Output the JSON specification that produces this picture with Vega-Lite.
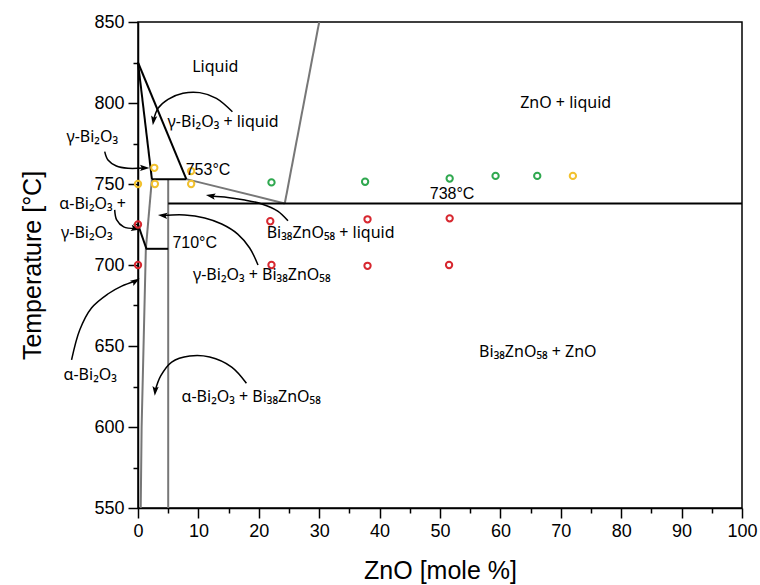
{
  "$schema": "https://vega.github.io/schema/vega-lite/v6.json",
  "width": 604,
  "height": 486,
  "autosize": {"type": "none"},
  "padding": {"left": 138, "top": 22, "right": 18, "bottom": 77},
  "background": "white",
  "config": {
    "view": {"stroke": "black", "strokeWidth": 1.5},
    "axis": {
      "domainColor": "black", "domainWidth": 1.5,
      "tickColor": "black", "tickWidth": 1.5,
      "labelColor": "black", "titleColor": "black",
      "grid": false,
      "labelFont": "Liberation Sans", "labelFontSize": 18,
      "titleFont": "Liberation Sans", "titleFontSize": 25, "titleFontWeight": "normal",
      "labelPadding": 4, "labelOverlap": false, "labelFlush": false
    }
  },
  "datasets": {
    "blackLines": [
      {"id": "B1", "o": 0, "x": 0, "T": 825}, {"id": "B1", "o": 1, "x": 2.3, "T": 753},
      {"id": "B2", "o": 0, "x": 0, "T": 825}, {"id": "B2", "o": 1, "x": 8, "T": 753},
      {"id": "B3", "o": 0, "x": 2.3, "T": 753}, {"id": "B3", "o": 1, "x": 8, "T": 753},
      {"id": "B4", "o": 0, "x": 5, "T": 738}, {"id": "B4", "o": 1, "x": 100, "T": 738},
      {"id": "B5", "o": 0, "x": 1.3, "T": 710}, {"id": "B5", "o": 1, "x": 5, "T": 710},
      {"id": "B6", "o": 0, "x": 0, "T": 725}, {"id": "B6", "o": 1, "x": 1.4, "T": 710}
    ],
    "greyLines": [
      {"id": "G1", "o": 0, "x": 8, "T": 753}, {"id": "G1", "o": 1, "x": 24.3, "T": 738},
      {"id": "G2", "o": 0, "x": 24.3, "T": 738}, {"id": "G2", "o": 1, "x": 30, "T": 850},
      {"id": "G3", "o": 0, "x": 5, "T": 753}, {"id": "G3", "o": 1, "x": 5, "T": 550},
      {"id": "G4", "o": 0, "x": 2.3, "T": 753}, {"id": "G4", "o": 1, "x": 1.3, "T": 710},
      {"id": "G5", "o": 0, "x": 1.3, "T": 710}, {"id": "G5", "o": 1, "x": 0.6, "T": 600}, {"id": "G5", "o": 2, "x": 0.45, "T": 550}
    ],
    "arrows": [
      {"id": "A1", "o": 0, "x": 15.63, "T": 794.6}, {"id": "A1", "o": 1, "x": 12.98, "T": 802.9}, {"id": "A1", "o": 2, "x": 10.22, "T": 806.4}, {"id": "A1", "o": 3, "x": 7.45, "T": 806.0}, {"id": "A1", "o": 4, "x": 4.97, "T": 802.3}, {"id": "A1", "o": 5, "x": 3.31, "T": 796.7}, {"id": "A1", "o": 6, "x": 2.58, "T": 789.5},
      {"id": "A2", "o": 0, "x": -5.51, "T": 770.0}, {"id": "A2", "o": 1, "x": -4.97, "T": 764.8}, {"id": "A2", "o": 2, "x": -3.58, "T": 761.1}, {"id": "A2", "o": 3, "x": -1.66, "T": 759.7}, {"id": "A2", "o": 4, "x": 1.03, "T": 759.9},
      {"id": "A3", "o": 0, "x": -3.86, "T": 734.0}, {"id": "A3", "o": 1, "x": -3.53, "T": 727.8}, {"id": "A3", "o": 2, "x": -2.37, "T": 723.5}, {"id": "A3", "o": 3, "x": -0.45, "T": 722.5},
      {"id": "A4", "o": 0, "x": -11.0, "T": 641.4}, {"id": "A4", "o": 1, "x": -9.65, "T": 659.9}, {"id": "A4", "o": 2, "x": -7.7, "T": 673.5}, {"id": "A4", "o": 3, "x": -5.0, "T": 682.1}, {"id": "A4", "o": 4, "x": -2.7, "T": 687.0}, {"id": "A4", "o": 5, "x": -0.46, "T": 690.0},
      {"id": "A5", "o": 0, "x": 17.95, "T": 627.0}, {"id": "A5", "o": 1, "x": 15.51, "T": 637.0}, {"id": "A5", "o": 2, "x": 11.87, "T": 643.2}, {"id": "A5", "o": 3, "x": 8.56, "T": 643.8}, {"id": "A5", "o": 4, "x": 5.58, "T": 640.1}, {"id": "A5", "o": 5, "x": 3.76, "T": 631.5}, {"id": "A5", "o": 6, "x": 2.85, "T": 622.5},
      {"id": "A6", "o": 0, "x": 19.87, "T": 700.0}, {"id": "A6", "o": 1, "x": 18.49, "T": 710.5}, {"id": "A6", "o": 2, "x": 16.51, "T": 719.1}, {"id": "A6", "o": 3, "x": 13.86, "T": 725.3}, {"id": "A6", "o": 4, "x": 11.04, "T": 729.0}, {"id": "A6", "o": 5, "x": 7.73, "T": 730.9}, {"id": "A6", "o": 6, "x": 4.17, "T": 730.6},
      {"id": "A7", "o": 0, "x": 24.83, "T": 727.3}, {"id": "A7", "o": 1, "x": 23.13, "T": 733.3}, {"id": "A7", "o": 2, "x": 20.48, "T": 737.7}, {"id": "A7", "o": 3, "x": 17.67, "T": 740.1}, {"id": "A7", "o": 4, "x": 14.85, "T": 741.7}, {"id": "A7", "o": 5, "x": 12.1, "T": 742.6}
    ],
    "heads": [
      {"x": 2.58, "T": 789.5, "a": 188},
      {"x": 1.03, "T": 759.9, "a": 90},
      {"x": -0.45, "T": 722.5, "a": 100},
      {"x": -0.46, "T": 690.0, "a": 58},
      {"x": 2.85, "T": 622.5, "a": 185},
      {"x": 4.17, "T": 730.6, "a": 275},
      {"x": 12.1, "T": 742.6, "a": 280}
    ],
    "points": [
      {"x": 0, "T": 750, "c": "yellow"},
      {"x": 2.7, "T": 760, "c": "yellow"},
      {"x": 2.8, "T": 750, "c": "yellow"},
      {"x": 8.8, "T": 758, "c": "yellow"},
      {"x": 8.8, "T": 750, "c": "yellow"},
      {"x": 72, "T": 755, "c": "yellow"},
      {"x": 22.1, "T": 751, "c": "green"},
      {"x": 37.6, "T": 751.4, "c": "green"},
      {"x": 51.6, "T": 753.4, "c": "green"},
      {"x": 59.2, "T": 755, "c": "green"},
      {"x": 66.1, "T": 755, "c": "green"},
      {"x": 0, "T": 725, "c": "red"},
      {"x": 0, "T": 700, "c": "red"},
      {"x": 21.9, "T": 727, "c": "red"},
      {"x": 38, "T": 728.2, "c": "red"},
      {"x": 51.6, "T": 728.8, "c": "red"},
      {"x": 22.1, "T": 700, "c": "red"},
      {"x": 38, "T": 699.5, "c": "red"},
      {"x": 51.5, "T": 700, "c": "red"}
    ],
    "labelsCenter": [
      {"label": "Liquid", "x": 12.8, "T": 822.4},
      {"label": "ZnO + liquid", "x": 70.8, "T": 800},
      {"label": "Bi₃₈ZnO₅₈ + ZnO", "x": 66.2, "T": 646.3}
    ],
    "labelsLeft": [
      {"label": "γ-Bi₂O₃ + liquid", "x": 4.9, "T": 788.3},
      {"label": "Bi₃₈ZnO₅₈ + liquid", "x": 21.3, "T": 719.8},
      {"label": "γ-Bi₂O₃ + Bi₃₈ZnO₅₈", "x": 9.1, "T": 693.8},
      {"label": "α-Bi₂O₃ + Bi₃₈ZnO₅₈", "x": 7.2, "T": 618.5}
    ],
    "labelsRight": [
      {"label": "γ-Bi₂O₃", "x": -3.3, "T": 779},
      {"label": "α-Bi₂O₃ +", "x": -2.0, "T": 737.7},
      {"label": "γ-Bi₂O₃", "x": -4.2, "T": 719.8},
      {"label": "α-Bi₂O₃", "x": -3.5, "T": 632.1}
    ],
    "temps": [
      {"label": "753°C", "x": 7.9, "T": 758.6},
      {"label": "738°C", "x": 48.3, "T": 744},
      {"label": "710°C", "x": 5.7, "T": 713.6}
    ]
  },
  "encoding": {
    "x": {
      "field": "x", "type": "quantitative",
      "scale": {"domain": [0, 100], "nice": false, "zero": false},
      "axis": {
        "title": "ZnO [mole %]",
        "values": [0, 5, 10, 15, 20, 25, 30, 35, 40, 45, 50, 55, 60, 65, 70, 75, 80, 85, 90, 95, 100],
        "labelExpr": "datum.value % 10 === 0 ? datum.label : ''",
        "tickSize": {"condition": {"test": "datum.value % 10 !== 0", "value": 5}, "value": 10},
        "titlePadding": 18
      }
    },
    "y": {
      "field": "T", "type": "quantitative",
      "scale": {"domain": [550, 850], "nice": false, "zero": false},
      "axis": {
        "title": "Temperature [°C]",
        "values": [550, 575, 600, 625, 650, 675, 700, 725, 750, 775, 800, 825, 850],
        "labelExpr": "datum.value % 50 === 0 ? datum.label : ''",
        "tickSize": {"condition": {"test": "datum.value % 50 !== 0", "value": 5}, "value": 10},
        "titlePadding": 48
      }
    }
  },
  "layer": [
    {
      "data": {"name": "greyLines"},
      "mark": {"type": "line", "color": "#777777", "strokeWidth": 2},
      "encoding": {"detail": {"field": "id"}, "order": {"field": "o", "type": "quantitative"}}
    },
    {
      "data": {"name": "blackLines"},
      "mark": {"type": "line", "color": "black", "strokeWidth": 2},
      "encoding": {"detail": {"field": "id"}, "order": {"field": "o", "type": "quantitative"}}
    },
    {
      "data": {"name": "arrows"},
      "mark": {"type": "line", "color": "black", "strokeWidth": 1.5, "interpolate": "catmull-rom"},
      "encoding": {"detail": {"field": "id"}, "order": {"field": "o", "type": "quantitative"}}
    },
    {
      "data": {"name": "heads"},
      "mark": {"type": "point", "shape": "M0,-1L0.6,0.8L0,0.45L-0.6,0.8Z", "filled": true, "color": "black", "size": 110, "opacity": 1},
      "encoding": {"angle": {"field": "a", "type": "quantitative", "scale": null}}
    },
    {
      "data": {"name": "points"},
      "mark": {"type": "point", "filled": false, "strokeWidth": 2, "size": 40, "opacity": 1},
      "encoding": {
        "color": {"field": "c", "type": "nominal", "scale": {"domain": ["yellow", "green", "red"], "range": ["#F2C12E", "#2FA84F", "#D7272F"]}, "legend": null}
      }
    },
    {
      "data": {"name": "labelsCenter"},
      "mark": {"type": "text", "font": "Noto Sans", "fontSize": 16, "align": "center", "baseline": "middle", "color": "black"},
      "encoding": {"text": {"field": "label"}}
    },
    {
      "data": {"name": "labelsLeft"},
      "mark": {"type": "text", "font": "Noto Sans", "fontSize": 16, "align": "left", "baseline": "middle", "color": "black"},
      "encoding": {"text": {"field": "label"}}
    },
    {
      "data": {"name": "labelsRight"},
      "mark": {"type": "text", "font": "Noto Sans", "fontSize": 16, "align": "right", "baseline": "middle", "color": "black"},
      "encoding": {"text": {"field": "label"}}
    },
    {
      "data": {"name": "temps"},
      "mark": {"type": "text", "font": "Liberation Sans", "fontSize": 16, "align": "left", "baseline": "middle", "color": "black"},
      "encoding": {"text": {"field": "label"}}
    }
  ]
}
